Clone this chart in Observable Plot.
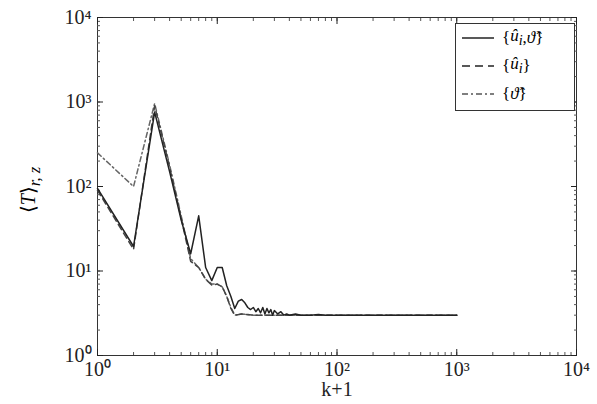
<!DOCTYPE html>
<html><head><meta charset="utf-8">
<script src="https://cdn.jsdelivr.net/npm/d3@7"></script>
<script src="https://cdn.jsdelivr.net/npm/@observablehq/plot@0.6"></script>
<style>
body{margin:0;background:#fff;font-family:"Liberation Serif","Times New Roman",serif}
#wrap{position:relative;width:597px;height:404px}
#legend{position:absolute;left:455px;top:23px;width:118px;height:86px;border:1.5px solid #333;background:#fff;font-size:17px}
#legend div{display:flex;align-items:center;height:28px;margin-left:6px}
#legend svg{margin-right:8px}
#ylab{position:absolute;top:190px;left:30px;transform:translate(-50%,-50%) rotate(-90deg);font-size:20px;white-space:nowrap}
</style></head><body>
<div id="wrap"><div id="plot"></div>
<div id="ylab">⟨<i>T</i>⟩<sub><i>r, z</i></sub></div>
<div id="legend">
<div><svg width="32" height="4"><line x1="0" x2="32" y1="2" y2="2" stroke="#222" stroke-width="1.5"/></svg>{<i>û<sub>i</sub></i>, <i>ϑ̂</i>}</div>
<div><svg width="32" height="4"><line x1="0" x2="32" y1="2" y2="2" stroke="#222" stroke-width="1.5" stroke-dasharray="8 5"/></svg>{<i>û<sub>i</sub></i>}</div>
<div><svg width="32" height="4"><line x1="0" x2="32" y1="2" y2="2" stroke="#555" stroke-width="1.5" stroke-dasharray="6 3 2 3"/></svg>{<i>ϑ̂</i>}</div>
</div></div>
<script>
const solidX = [1,2,3,4,5,6,7,8,9,10,11,12,13,14,15,16,17,18,19,20,21,22,23,24,25,26,27,28,29,30,32,34,36,38,40,45,50,60,70,80,100,150,200,300,500,700,1000];
const solidY = [95,19.5,760,150,40,16,45,11,7.7,11,11,6.7,5,3.6,4.4,4.6,4.2,3.7,3.5,3.7,3.3,3.6,3.2,3.7,3.1,3.6,3.2,3.5,3.0,3.4,3.1,3.3,3.0,3.1,3.0,3.1,3.0,3.0,3.05,3.0,3.0,3.0,3.0,3.0,3.0,3.0,3.0];
const dashX = [1,2,3,4,5,6,7,8,9,10,11,12,13,14,16,20,30,50,100,1000];
const dashY = [90,18,900,170,42,13,11,8,6.8,7,6.5,5,3.6,3.0,3.1,3.0,3.0,3.0,3.0,3.0];
const ddX = [1,2,3,4,5,6,7,8,9,10,11,12,13,14,16,20,30,50,100,1000];
const ddY = [250,100,960,180,45,14,11,8,7,7,6.5,5,3.7,3.0,3.1,3.0,3.0,3.0,3.0,3.0];

const toRows = (xs, ys) => xs.map((x, i) => ({x, y: ys[i]}));
const sup = {"0":"⁰","1":"¹","2":"²","3":"³","4":"⁴"};
const allTicks = [];
for (let e = 0; e < 4; e++) for (let m = 1; m < 10; m++) allTicks.push(m * 10 ** e);
allTicks.push(1e4);
const major = [1, 10, 100, 1000, 10000];
const fmt = d => "10" + sup[String(Math.round(Math.log10(d)))];

const chart = Plot.plot({
  width: 597, height: 404,
  marginLeft: 97, marginRight: 21, marginTop: 17, marginBottom: 49,
  style: {fontFamily: "'Liberation Serif', serif", fontSize: "17px", color: "#222"},
  x: {type: "log", domain: [1, 1e4], label: null},
  y: {type: "log", domain: [1, 1e4], label: null},
  marks: [
    Plot.frame({stroke: "#333"}),
    Plot.axisX(allTicks, {tickSize: -3, tickFormat: () => "", stroke: "#555"}),
    Plot.axisX(allTicks, {anchor: "top", tickSize: -3, tickFormat: () => "", stroke: "#555"}),
    Plot.axisY(allTicks, {tickSize: -3, tickFormat: () => "", stroke: "#555"}),
    Plot.axisY(allTicks, {anchor: "right", tickSize: -3, tickFormat: () => "", stroke: "#555"}),
    Plot.axisX(major, {tickSize: -6, tickFormat: fmt, tickPadding: 12, fontSize: 20}),
    Plot.axisX(major, {anchor: "top", tickSize: -6, tickFormat: () => ""}),
    Plot.axisY(major, {tickSize: -6, tickFormat: fmt, tickPadding: 12, fontSize: 20}),
    Plot.axisY(major, {anchor: "right", tickSize: -6, tickFormat: () => ""}),
    Plot.line(toRows(ddX, ddY), {x: "x", y: "y", stroke: "#666", strokeWidth: 1.5, strokeDasharray: "5 3 1.5 3"}),
    Plot.line(toRows(dashX, dashY), {x: "x", y: "y", stroke: "#444", strokeWidth: 1.5, strokeDasharray: "6 4"}),
    Plot.line(toRows(solidX, solidY), {x: "x", y: "y", stroke: "#222", strokeWidth: 1.5}),
    Plot.text(["k+1"], {frameAnchor: "bottom", dy: 40, fontSize: 20})
  ]
});
document.getElementById("plot").appendChild(chart);
</script></body></html>
